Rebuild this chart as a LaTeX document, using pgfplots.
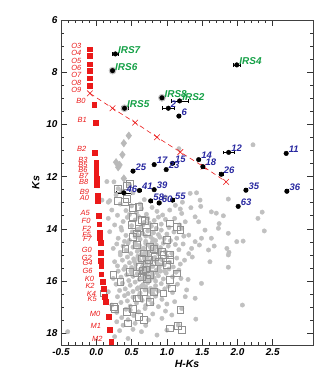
\documentclass[border=0pt]{standalone}
\usepackage{fontspec}
\setmainfont{Liberation Sans}
\usepackage{pgfplots}
\usepackage{pgfplotstable}
\pgfplotsset{compat=1.18}
\definecolor{dotgray}{RGB}{192,192,192}
\definecolor{sqgray}{RGB}{145,145,145}
\definecolor{diagray}{RGB}{185,185,185}
\definecolor{spred}{RGB}{235,25,25}
\definecolor{irsgreen}{RGB}{20,160,70}
\definecolor{numblue}{RGB}{40,40,160}

\pgfplotstableread{
x y
1.17 10.93
2.22 10.78
0.15 12.19
0.25 12.20
0.31 12.46
0.47 12.32
0.08 12.90
0.19 12.92
0.17 12.98
0.28 12.70
0.52 12.62
0.68 12.88
0.98 12.78
1.33 12.64
1.42 12.62
1.47 12.90
1.87 12.86
0.36 12.55
1.22 12.98
0.90 13.00
0.22 13.28
0.34 13.05
0.42 13.30
0.50 13.12
0.57 13.38
0.64 13.22
0.71 13.44
0.79 13.18
0.86 13.33
0.94 13.47
1.04 13.28
1.12 13.10
1.19 13.24
1.21 13.41
1.34 13.19
1.48 13.14
1.63 13.35
1.70 13.40
2.35 13.36
0.62 13.05
0.47 13.45
0.30 13.48
0.17 13.60
0.26 13.85
0.38 13.72
0.44 13.56
0.50 13.88
0.55 13.66
0.60 13.53
0.63 13.95
0.68 13.75
0.73 13.60
0.78 13.90
0.82 13.68
0.88 13.55
0.92 13.82
0.98 13.64
1.03 13.95
1.11 13.60
1.18 13.85
1.26 13.73
1.40 13.54
1.45 13.73
1.73 13.98
1.74 13.80
1.80 13.50
2.29 13.60
0.35 13.95
0.85 13.98
0.19 14.11
0.31 14.36
0.36 14.05
0.42 14.25
0.47 14.44
0.51 14.12
0.55 14.30
0.59 14.02
0.62 14.40
0.66 14.18
0.70 14.48
0.73 14.08
0.77 14.30
0.81 14.15
0.84 14.45
0.88 14.22
0.92 14.05
0.96 14.38
1.00 14.20
1.05 14.45
1.10 14.12
1.14 14.36
1.21 13.98
1.24 14.28
1.31 14.24
1.40 14.49
1.49 14.36
1.54 14.05
1.63 14.36
1.87 14.17
1.99 14.49
2.08 14.47
2.38 14.08
0.40 14.48
0.58 14.22
0.24 14.75
0.29 14.58
0.34 14.90
0.38 14.66
0.42 14.82
0.45 14.55
0.49 14.95
0.52 14.70
0.55 14.52
0.58 14.86
0.61 14.64
0.64 14.98
0.67 14.74
0.70 14.56
0.73 14.90
0.76 14.68
0.79 14.52
0.82 14.84
0.85 14.62
0.88 14.96
0.91 14.72
0.95 14.55
0.98 14.88
1.02 14.66
1.07 14.94
1.12 14.60
1.17 14.80
1.23 14.58
1.35 14.75
1.31 14.95
1.59 14.81
1.67 14.66
1.85 14.75
1.88 14.90
1.46 14.62
0.26 15.26
0.34 15.00
0.30 15.42
0.37 15.20
0.41 15.45
0.44 15.08
0.47 15.30
0.50 15.48
0.53 15.15
0.56 15.36
0.59 15.04
0.62 15.25
0.65 15.46
0.68 15.12
0.71 15.34
0.74 15.02
0.77 15.22
0.80 15.44
0.83 15.10
0.86 15.30
0.89 15.48
0.92 15.16
0.96 15.38
1.00 15.05
1.04 15.28
1.09 15.46
1.14 15.12
1.19 15.35
1.25 15.20
1.61 15.26
1.87 15.47
1.87 15.00
1.36 15.08
0.75 15.50
0.24 15.90
0.31 15.62
0.35 15.85
0.39 15.55
0.43 15.76
0.46 15.98
0.49 15.60
0.52 15.82
0.55 15.52
0.58 15.72
0.61 15.94
0.64 15.64
0.67 15.86
0.70 15.56
0.73 15.78
0.76 15.98
0.79 15.66
0.82 15.88
0.85 15.58
0.88 15.80
0.91 15.62
0.95 15.92
0.99 15.70
1.03 15.54
1.08 15.84
1.13 15.66
1.20 15.90
1.30 15.94
1.17 15.58
0.17 16.41
0.28 16.12
0.33 16.36
0.37 16.08
0.41 16.30
0.45 16.48
0.48 16.16
0.52 16.40
0.55 16.04
0.59 16.26
0.62 16.46
0.66 16.14
0.69 16.34
0.73 16.06
0.77 16.28
0.80 16.48
0.84 16.18
0.88 16.38
0.92 16.10
0.97 16.30
1.02 16.20
1.08 16.44
1.28 16.34
1.49 16.09
1.15 16.12
0.22 16.92
0.30 16.60
0.35 16.82
0.40 16.56
0.44 16.76
0.48 16.96
0.52 16.62
0.57 16.84
0.61 16.54
0.65 16.74
0.70 16.94
0.74 16.64
0.79 16.86
0.84 16.58
0.88 16.98
0.93 16.70
1.00 16.88
1.11 16.79
1.26 16.60
1.40 16.66
2.07 16.92
0.69 17.05
0.29 17.20
0.36 17.40
0.42 17.08
0.48 17.11
0.53 17.32
0.60 17.18
0.74 17.49
0.80 17.26
0.93 17.43
0.98 17.15
1.07 17.30
1.21 17.05
1.41 17.46
0.45 17.48
0.26 18.13
0.29 17.56
0.38 17.69
0.45 18.20
0.55 17.62
0.64 17.94
0.70 17.70
0.86 18.07
1.00 17.88
1.16 17.69
0.52 17.85
-0.405 17.94
0.33 17.90
0.57 14.62
0.63 14.80
0.69 14.92
0.72 14.60
0.78 14.78
0.84 14.70
0.90 14.86
0.60 15.15
0.66 15.32
0.72 15.18
0.78 15.40
0.84 15.22
0.90 15.38
0.62 15.58
0.68 15.72
0.74 15.60
0.80 15.76
0.86 15.68
0.66 15.90
0.72 16.02
0.78 15.86
0.84 16.00
0.64 16.20
0.70 16.22
0.76 16.40
0.82 16.32
0.54 15.25
0.50 15.70
0.58 16.30
0.94 15.20
0.97 15.62
0.60 14.30
0.70 14.28
0.80 14.40
0.90 14.32
0.66 13.85
0.75 13.78
0.70 15.95
0.62 16.62
0.75 16.72
}\graydots

\pgfplotstableread{
x y
0.30 12.46
0.43 12.36
0.48 12.26
0.31 12.92
0.43 12.85
0.40 12.95
0.52 13.18
0.60 13.16
0.52 13.54
0.50 13.85
0.64 13.66
0.69 13.68
0.71 14.11
0.57 14.17
0.81 13.92
1.04 13.79
1.14 13.92
1.00 14.43
1.19 14.05
0.76 14.69
0.67 14.94
0.83 15.07
0.95 15.00
0.71 15.32
0.62 15.45
0.81 15.51
1.00 15.39
1.04 15.20
0.57 15.70
0.76 15.77
0.48 15.64
1.14 15.70
0.24 15.77
0.64 15.83
1.04 15.96
0.34 16.03
0.67 16.41
0.81 16.41
0.95 16.47
1.07 16.28
0.57 16.66
0.76 16.79
0.52 17.05
0.26 17.05
0.43 17.18
0.60 17.37
0.67 17.49
1.19 17.11
1.04 17.81
1.21 17.88
0.45 17.62
0.10 16.47
0.25 16.98
0.60 16.66
0.60 13.98
0.81 14.75
0.93 14.88
0.41 14.75
0.57 14.62
0.64 15.13
1.04 15.00
0.52 14.30
1.16 17.71
0.70 15.55
0.74 15.20
0.88 15.25
0.66 15.60
0.72 15.90
}\graysquares

\pgfplotstableread{
x y
0.46 10.43
0.39 10.72
0.37 11.16
0.28 11.45
0.33 11.55
0.31 11.64
0.39 12.07
}\diamonds

\pgfplotstableread{
x y lab
-0.09 7.12 O3
-0.09 7.38 O4
-0.09 7.69 O5
-0.09 7.94 O6
-0.09 8.23 O7
-0.09 8.53 O8
-0.09 8.81 O9
-0.03 9.23 B0
-0.01 9.93 B1
-0.02 11.07 B2
0.00 11.47 B3
0.00 11.67 B5
0.00 11.84 B6
0.01 12.07 B7
0.01 12.30 B8
0.02 12.71 B9
0.02 12.92 A0
0.03 13.50 A5
0.04 13.82 F0
0.05 14.13 F2
0.05 14.34 F5
0.06 14.52 F7
0.06 14.92 G0
0.06 15.22 G2
0.07 15.41 G4
0.07 15.74 G6
0.09 16.04 K0
0.10 16.29 K2
0.12 16.60 K4
0.13 16.79 K5
0.18 17.38 M0
0.19 17.85 M1
0.21 18.33 M2
}\sptypes

\pgfplotstableread{
x y
-0.09 7.12
-0.09 7.38
-0.09 7.69
-0.09 7.94
-0.09 8.23
-0.09 8.53
-0.03 9.23
-0.01 9.93
-0.02 11.07
0.00 11.47
0.00 11.67
0.00 11.84
0.01 12.07
0.01 12.30
0.02 12.71
0.02 12.92
0.03 13.50
0.04 13.82
0.05 14.13
0.05 14.34
0.06 14.52
0.06 14.92
0.06 15.22
0.07 15.41
0.07 15.74
0.09 16.04
0.10 16.29
0.12 16.60
0.13 16.79
0.18 17.38
0.19 17.85
0.21 18.33
}\spsquares

\pgfplotstableread{
x y
-0.09 8.81
0.23 9.38
0.55 9.93
0.86 10.49
1.19 11.06
1.52 11.62
1.84 12.20
}\redvec

\pgfplotstableread{
x y ex lab
0.27 7.30 0.04 IRS7
0.23 7.94 0.03 IRS6
0.40 9.38 0.05 IRS5
0.93 8.98 0.03 IRS8
1.18 9.10 0.12 IRS2
1.99 7.72 0.05 IRS4
}\irs

\pgfplotstableread{
x y ex lab
1.02 9.38 0.08 2
1.17 9.68 0.02 6
0.52 11.79 0.02 25
0.82 11.54 0.02 17
0.99 11.73 0.02 23
1.08 11.49 0.02 15
1.45 11.35 0.02 14
1.51 11.62 0.02 18
0.39 12.62 0.11 46
0.61 12.53 0.02 41
0.82 12.50 0.02 39
0.77 12.93 0.02 58
0.89 13.01 0.02 60
1.08 12.90 0.02 55
1.875 11.07 0.08 12
2.69 11.11 0.02 11
1.77 11.91 0.03 26
2.12 12.52 0.02 35
2.70 12.56 0.02 36
2.01 13.14 0.02 63
}\nums

\pgfplotstableread{
x y
0.23 7.94
0.40 9.38
0.93 8.98
}\halos

\begin{document}
\begin{tikzpicture}
\begin{axis}[
  name=ax,
  scale only axis,
  width=252bp, height=325bp,
  xmin=-0.5, xmax=3.07,
  ymin=6, ymax=18.45,
  y dir=reverse,
  xtick={-0.5,0,0.5,1,1.5,2,2.5},
  xticklabels={-0.5,0.0,0.5,1.0,1.5,2.0,2.5},
  minor x tick num=4,
  ytick={6,8,10,12,14,16,18},
  minor y tick num=3,
  tick align=inside,
  major tick length=6bp,
  minor tick length=3bp,
  tick style={black!80, line width=0.6pt},
  axis line style={black!75, line width=0.8pt},
  /pgf/number format/assume math mode=true,
  tick label style={font=\fontsize{10}{12}\selectfont\bfseries\itshape},
  xlabel={H-Ks}, ylabel={Ks},
  label style={font=\fontsize{10.5}{12}\selectfont\bfseries\itshape},
  xlabel style={yshift=2bp},
  clip=true,
]
% field stars
\addplot[only marks, color=dotgray, mark=*, mark size=2.2bp] table[x=x,y=y] {\graydots};
\addplot[only marks, color=sqgray, mark=square, mark size=3.4bp, line width=0.6pt] table[x=x,y=y] {\graysquares};
\addplot[only marks, color=diagray, mark=diamond*, mark size=3.8bp] table[x=x,y=y] {\diamonds};
% spectral type sequence
\addplot[only marks, color=spred, mark=square*, mark size=2.4bp] table[x=x,y=y] {\spsquares};
\addplot[only marks, mark=none, nodes near coords, point meta=explicit symbolic,
  every node near coord/.style={anchor=east, xshift=-8bp, yshift=3bp, inner sep=0.5bp, text=spred, font=\fontsize{7.5}{8}\selectfont\itshape}]
  table[x=x,y=y,meta=lab] {\sptypes};
% reddening vector
\addplot[color=spred, line width=0.6pt, dash pattern=on 5bp off 3.5bp, mark=x, mark size=4bp, mark options={solid, line width=0.6pt}] table[x=x,y=y] {\redvec};
% halos
\addplot[only marks, color=dotgray, mark=*, mark size=3.6bp] table[x=x,y=y] {\halos};
% sources
\addplot[only marks, color=black, mark=*, mark size=2.3bp,
  error bars/.cd, x dir=both, x explicit, error mark options={rotate=90, mark size=1.8bp, line width=0.5pt}, error bar style={line width=0.5pt}]
  table[x=x,y=y,x error=ex] {\irs};
\addplot[only marks, color=black, mark=*, mark size=2.3bp,
  error bars/.cd, x dir=both, x explicit, error mark options={rotate=90, mark size=1.8bp, line width=0.5pt}, error bar style={line width=0.5pt}]
  table[x=x,y=y,x error=ex] {\nums};
\addplot[only marks, mark=none, nodes near coords, point meta=explicit symbolic,
  every node near coord/.style={anchor=west, xshift=2bp, yshift=4bp, inner sep=0.5bp, text=irsgreen, font=\fontsize{10}{11}\selectfont\bfseries\itshape}]
  table[x=x,y=y,meta=lab] {\irs};
\addplot[only marks, mark=none, nodes near coords, point meta=explicit symbolic,
  every node near coord/.style={anchor=west, xshift=2bp, yshift=4bp, inner sep=0.5bp, text=numblue, font=\fontsize{9.5}{11}\selectfont\bfseries\itshape}]
  table[x=x,y=y,meta=lab] {\nums};
\end{axis}
\path (ax.south west) ++(-61bp,-40bp) coordinate (bl);
\path (ax.north east) ++(18bp,20bp) coordinate (tr);
\path (bl) rectangle (tr);
\end{tikzpicture}
\end{document}
